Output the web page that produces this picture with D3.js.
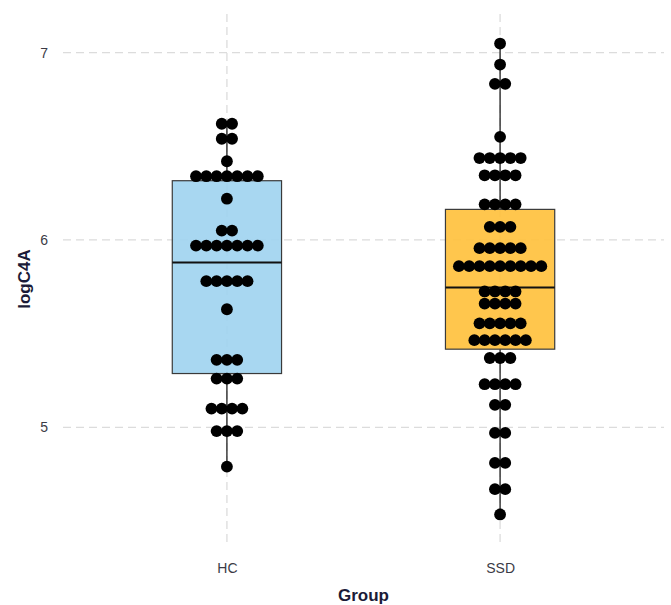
<!DOCTYPE html>
<html>
<head>
<meta charset="utf-8">
<script src="https://cdn.jsdelivr.net/npm/d3@7"></script>
<style>
  html, body { margin: 0; padding: 0; background: #ffffff; }
  svg { display: block; font-family: "Liberation Sans", Arial, sans-serif; }
</style>
</head>
<body>
<svg id="chart" width="671" height="605"></svg>
<script>
// Groups on the x axis
const groups = ["HC", "SSD"];

// logC4A per subject (dot-plot bin centres)
const hcValues = [
  4.79,
  4.98, 4.98, 4.98,
  5.10, 5.10, 5.10, 5.10,
  5.26, 5.26, 5.26,
  5.36, 5.36, 5.36,
  5.63,
  5.78, 5.78, 5.78, 5.78, 5.78,
  5.97, 5.97, 5.97, 5.97, 5.97, 5.97, 5.97,
  6.05, 6.05,
  6.22,
  6.34, 6.34, 6.34, 6.34, 6.34, 6.34, 6.34,
  6.42,
  6.54, 6.54,
  6.62, 6.62
];
const ssdValues = [
  4.535,
  4.67, 4.67,
  4.81, 4.81,
  4.97, 4.97,
  5.12, 5.12,
  5.23, 5.23, 5.23, 5.23,
  5.37, 5.37, 5.37,
  5.465, 5.465, 5.465, 5.465, 5.465, 5.465,
  5.555, 5.555, 5.555, 5.555, 5.555,
  5.66, 5.66, 5.66, 5.66,
  5.725, 5.725, 5.725, 5.725,
  5.86, 5.86, 5.86, 5.86, 5.86, 5.86, 5.86, 5.86, 5.86,
  5.956, 5.956, 5.956, 5.956, 5.956,
  6.07, 6.07, 6.07,
  6.19, 6.19, 6.19, 6.19,
  6.345, 6.345, 6.345, 6.345,
  6.437, 6.437, 6.437, 6.437, 6.437,
  6.55,
  6.833, 6.833,
  6.936,
  7.048
];
const groupValues = [hcValues, ssdValues];

// Box summaries per group
const boxQ1 = [5.287, 5.417];
const boxMedian = [5.879, 5.746];
const boxQ3 = [6.316, 6.163];

const yTicks = [5, 6, 7];
const fills = ["#9fd3ef", "#ffc03a"];

const svg = d3.select("#chart");
const panel = { left: 63, right: 664, top: 20, bottom: 538 };

// y range with 5% padding around the data
const allVals = hcValues.concat(ssdValues);
const [vMin, vMax] = d3.extent(allVals);
const pad = (vMax - vMin) * 0.05;
const y = d3.scaleLinear()
  .domain([vMin - pad, vMax + pad])
  .range([panel.bottom, panel.top]);

const x = d3.scalePoint()
  .domain(groups)
  .range([panel.left, panel.right])
  .padding(0.6);

const boxHalf = x.step() * 0.2;
const dotStep = 10.3;
const dotR = 5.9;

// Grid
const grid = svg.append("g").attr("stroke", "#dcdcdc").attr("stroke-width", 1.3)
  .attr("stroke-dasharray", "8,5").attr("fill", "none");
grid.selectAll("line.h").data(yTicks).join("line")
  .attr("x1", panel.left).attr("x2", panel.right)
  .attr("y1", d => y(d)).attr("y2", d => y(d));
grid.selectAll("line.v").data(groups).join("line")
  .attr("x1", d => x(d)).attr("x2", d => x(d))
  .attr("y1", panel.top - 6).attr("y2", panel.bottom + 8);

// Whiskers
const whisk = svg.append("g").attr("stroke", "#2e2e2e").attr("stroke-width", 1.4);
groups.forEach((g, i) => {
  const [lo, hi] = d3.extent(groupValues[i]);
  whisk.append("line").attr("x1", x(g)).attr("x2", x(g))
    .attr("y1", y(hi)).attr("y2", y(boxQ3[i]));
  whisk.append("line").attr("x1", x(g)).attr("x2", x(g))
    .attr("y1", y(boxQ1[i])).attr("y2", y(lo));
});

// Boxes
const boxes = svg.append("g");
groups.forEach((g, i) => {
  boxes.append("rect")
    .attr("x", x(g) - boxHalf).attr("width", boxHalf * 2)
    .attr("y", y(boxQ3[i])).attr("height", y(boxQ1[i]) - y(boxQ3[i]))
    .attr("fill", fills[i]).attr("fill-opacity", 0.9)
    .attr("stroke", "#3a3a3a").attr("stroke-width", 1.2);
  boxes.append("line")
    .attr("x1", x(g) - boxHalf).attr("x2", x(g) + boxHalf)
    .attr("y1", y(boxMedian[i])).attr("y2", y(boxMedian[i]))
    .attr("stroke", "#111111").attr("stroke-width", 2);
});

// Centre-stacked dots
const dots = svg.append("g").attr("fill", "#000000");
groups.forEach((g, i) => {
  const bins = d3.rollups(groupValues[i], v => v.length, v => v);
  bins.forEach(([val, n]) => {
    for (let k = 0; k < n; k++) {
      dots.append("circle")
        .attr("cx", x(g) + (k - (n - 1) / 2) * dotStep)
        .attr("cy", y(val))
        .attr("r", dotR);
    }
  });
});

// Axes text
const yAxis = svg.append("g")
  .attr("transform", `translate(${panel.left - 12},0)`)
  .call(d3.axisLeft(y).tickValues(yTicks).tickFormat(d3.format("d")).tickSize(0));
yAxis.select(".domain").remove();
yAxis.selectAll("text").attr("font-size", 14).attr("fill", "#3b3b46")
  .attr("font-family", "Liberation Sans, Arial, sans-serif").attr("dx", 0);

const xAxis = svg.append("g")
  .attr("transform", `translate(0,${panel.bottom + 22})`)
  .call(d3.axisBottom(x).tickSize(0));
xAxis.select(".domain").remove();
xAxis.selectAll("text").attr("font-size", 14).attr("fill", "#3b3b46")
  .attr("font-family", "Liberation Sans, Arial, sans-serif");

svg.append("text")
  .attr("x", (panel.left + panel.right) / 2).attr("y", 601)
  .attr("text-anchor", "middle").attr("font-size", 17).attr("font-weight", "bold")
  .attr("fill", "#1b1b38").text("Group");

svg.append("text")
  .attr("transform", `translate(30,${(panel.top + panel.bottom) / 2}) rotate(-90)`)
  .attr("text-anchor", "middle").attr("font-size", 17).attr("font-weight", "bold")
  .attr("fill", "#1b1b38").text("logC4A");
</script>
</body>
</html>
